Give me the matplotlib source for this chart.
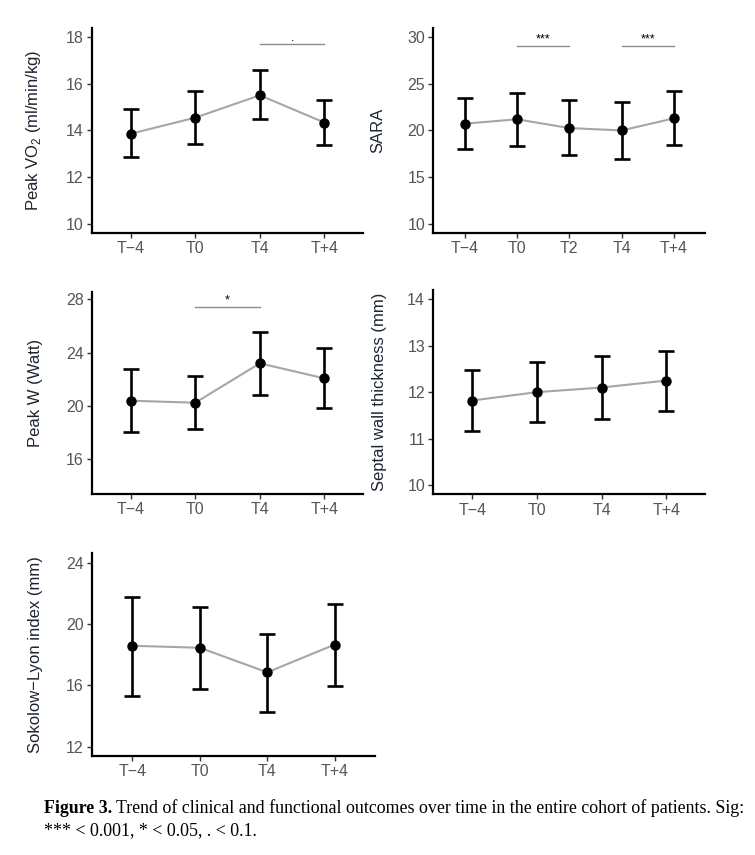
import matplotlib
matplotlib.use("Agg")
import matplotlib.pyplot as plt

plt.rcParams['font.family'] = ['Liberation Sans', 'DejaVu Sans']

# time points
times4 = ['T\u22124', 'T0', 'T4', 'T+4']
times5 = ['T\u22124', 'T0', 'T2', 'T4', 'T+4']

# Peak VO2 (ml/min/kg)
vo2_mean = [13.86, 14.55, 15.51, 14.34]
vo2_lo = [12.85, 13.43, 14.48, 13.39]
vo2_hi = [14.91, 15.70, 16.59, 15.31]

# SARA
sara_mean = [20.73, 21.2, 20.26, 20.0, 21.3]
sara_lo = [17.96, 18.32, 17.32, 16.99, 18.47]
sara_hi = [23.46, 24.07, 23.24, 23.1, 24.25]

# Peak W (Watt)
pw_mean = [20.38, 20.23, 23.19, 22.06]
pw_lo = [18.05, 18.25, 20.8, 19.85]
pw_hi = [22.74, 22.26, 25.56, 24.32]

# Septal wall thickness (mm)
swt_mean = [11.82, 12.0, 12.1, 12.25]
swt_lo = [11.17, 11.36, 11.42, 11.60]
swt_hi = [12.48, 12.65, 12.78, 12.89]

# Sokolow-Lyon index (mm)
sl_mean = [18.58, 18.45, 16.85, 18.66]
sl_lo = [15.31, 15.79, 14.29, 15.95]
sl_hi = [21.78, 21.08, 19.36, 21.29]

fig = plt.figure(figsize=(7.55, 8.55), dpi=100)

TICK_GREY = '#555555'


def panel(rect, labels, mean, lo, hi, ylabel, yticks, ylim, label_x, sigs=()):
    ax = fig.add_axes(rect)
    x = list(range(len(labels)))
    ax.plot(x, mean, color='#a6a6a6', lw=1.5, zorder=2)
    yerr = [[m - l for m, l in zip(mean, lo)], [h - m for m, h in zip(mean, hi)]]
    ax.errorbar(x, mean, yerr=yerr, fmt='o', color='black', ms=6.5,
                elinewidth=1.9, capsize=5.5, capthick=1.9, zorder=3)
    for (a, b, y, txt) in sigs:
        ax.plot([a, b], [y, y], color='#8c8c8c', lw=1.0, zorder=2)
        ax.text((a + b) / 2, y, txt, ha='center', va='bottom', fontsize=9,
                color='black')
    ax.set_xlim(-0.6, len(labels) - 0.4)
    ax.set_ylim(*ylim)
    ax.set_xticks(x)
    ax.set_xticklabels(labels)
    ax.set_yticks(yticks)
    ax.set_ylabel(ylabel, fontsize=12, color='#1c2530')
    ax.yaxis.set_label_coords(label_x, 0.5)
    for s in ['top', 'right']:
        ax.spines[s].set_visible(False)
    for s in ['left', 'bottom']:
        ax.spines[s].set_linewidth(1.6)
    ax.tick_params(axis='both', labelsize=11.5, labelcolor=TICK_GREY,
                   length=3.5, width=1.0, color='#333333', pad=2.5)
    return ax


panel([0.1219, 0.7275, 0.359, 0.2398], times4, vo2_mean, vo2_lo, vo2_hi,
      'Peak VO$_\\mathregular{2}$ (ml/min/kg)', [10, 12, 14, 16, 18],
      (9.6, 18.4), -0.18, sigs=[(2, 3, 17.71, '.')])

panel([0.574, 0.7275, 0.36, 0.2398], times5, sara_mean, sara_lo, sara_hi,
      'SARA', [10, 15, 20, 25, 30], (9.0, 31.0), -0.177,
      sigs=[(1, 2, 29.1, '***'), (3, 4, 29.1, '***')])

panel([0.1219, 0.4222, 0.359, 0.2366], times4, pw_mean, pw_lo, pw_hi,
      'Peak W (Watt)', [16, 20, 24, 28], (13.37, 28.57), -0.18,
      sigs=[(1, 2, 27.44, '*')])

panel([0.574, 0.4219, 0.36, 0.2389], times4, swt_mean, swt_lo, swt_hi,
      'Septal wall thickness (mm)', [10, 11, 12, 13, 14], (9.8, 14.2), -0.17)

panel([0.1219, 0.1158, 0.375, 0.237], times4, sl_mean, sl_lo, sl_hi,
      'Sokolow\u2212Lyon index (mm)', [12, 16, 20, 24], (11.4, 24.6), -0.173)

# caption
serif = ['Liberation Serif', 'DejaVu Serif']
cap_x = 44 / 755
fig.canvas.draw()
renderer = fig.canvas.get_renderer()
t0 = fig.text(cap_x, 1 - 808 / 855, 'Figure 3.', family=serif,
              weight='bold', fontsize=12.9, va='center', ha='left')
bb = t0.get_window_extent(renderer)
fig.text(bb.x1 / 755 + 4 / 755, 1 - 808 / 855,
         'Trend of clinical and functional outcomes over time in the entire cohort of patients. Sig:',
         family=serif, fontsize=12.9, va='center', ha='left')
fig.text(cap_x, 1 - 831 / 855, '*** < 0.001, * < 0.05, . < 0.1.',
         family=serif, fontsize=12.9, va='center', ha='left')

fig.savefig('out.png', dpi=100)
